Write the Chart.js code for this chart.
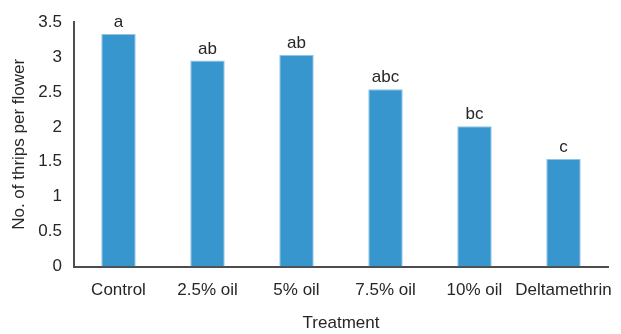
<!DOCTYPE html>
<html>
<head>
<meta charset="utf-8">
<script src="https://cdn.jsdelivr.net/npm/chart.js@4.4.1/dist/chart.umd.min.js"></script>
<style>
  html, body { margin: 0; padding: 0; background: #ffffff; }
  #wrap { width: 621px; height: 334px; }
</style>
</head>
<body>
<div id="wrap"><canvas id="c" width="621" height="334"></canvas></div>
<script>
// Treatments and mean thrips counts per flower
const treatments = ['Control', '2.5% oil', '5% oil', '7.5% oil', '10% oil', 'Deltamethrin'];
const thripsPerFlower = [3.33, 2.95, 3.03, 2.54, 2.01, 1.54];
// Significance letters shown above each bar
const groupLetters = ['a', 'ab', 'ab', 'abc', 'bc', 'c'];
// Value axis range
const yMin = 0;
const yMax = 3.5;
const yStep = 0.5;

const FONT = "'Liberation Sans', Arial, sans-serif";
const SIZE = 17;
const TEXT = '#262626';
const AXIS = '#4d4d4d';

const letterPlugin = {
  id: 'groupLetters',
  afterDatasetsDraw(chart) {
    const ctx = chart.ctx;
    const meta = chart.getDatasetMeta(0);
    ctx.save();
    ctx.font = SIZE + 'px ' + FONT;
    ctx.fillStyle = TEXT;
    ctx.textAlign = 'center';
    ctx.textBaseline = 'alphabetic';
    meta.data.forEach((bar, i) => {
      ctx.fillText(groupLetters[i], bar.x, bar.y - 7);
    });
    ctx.restore();
  }
};

new Chart(document.getElementById('c'), {
  type: 'bar',
  data: {
    labels: treatments,
    datasets: [{
      data: thripsPerFlower,
      backgroundColor: '#3796cd',
      borderColor: '#8fc4e6',
      borderWidth: { left: 1, right: 1, top: 1, bottom: 0 },
      categoryPercentage: 1,
      barPercentage: 0.387
    }]
  },
  options: {
    responsive: false,
    animation: false,
    layout: { padding: { top: 21, right: 13, left: 0, bottom: 0 } },
    plugins: {
      legend: { display: false },
      tooltip: { enabled: false }
    },
    scales: {
      x: {
        grid: { display: false, drawTicks: false },
        border: { display: true, color: AXIS, width: 2 },
        ticks: { color: TEXT, font: { family: FONT, size: SIZE }, padding: 14, maxRotation: 0, autoSkip: false },
        title: { display: true, text: 'Treatment', color: TEXT, font: { family: FONT, size: SIZE }, padding: { top: 0, bottom: 0 } },
        afterFit(scale) {
          scale.height = 67.5;
          // let the last label run into the right margin instead of shrinking the plot
          scale.paddingLeft = 0;
          scale.paddingRight = 0;
        }
      },
      y: {
        min: yMin,
        max: yMax,
        grid: { display: false, drawTicks: false },
        border: { display: true, color: AXIS, width: 2 },
        ticks: {
          stepSize: yStep,
          color: TEXT,
          font: { family: FONT, size: SIZE },
          padding: 12,
          callback: (v) => String(v)
        },
        title: { display: true, text: 'No. of thrips per flower', color: TEXT, font: { family: FONT, size: SIZE }, padding: { top: 9, bottom: 0 } },
        afterFit(scale) { scale.width = 74; }
      }
    }
  },
  plugins: [letterPlugin]
});
</script>
</body>
</html>
